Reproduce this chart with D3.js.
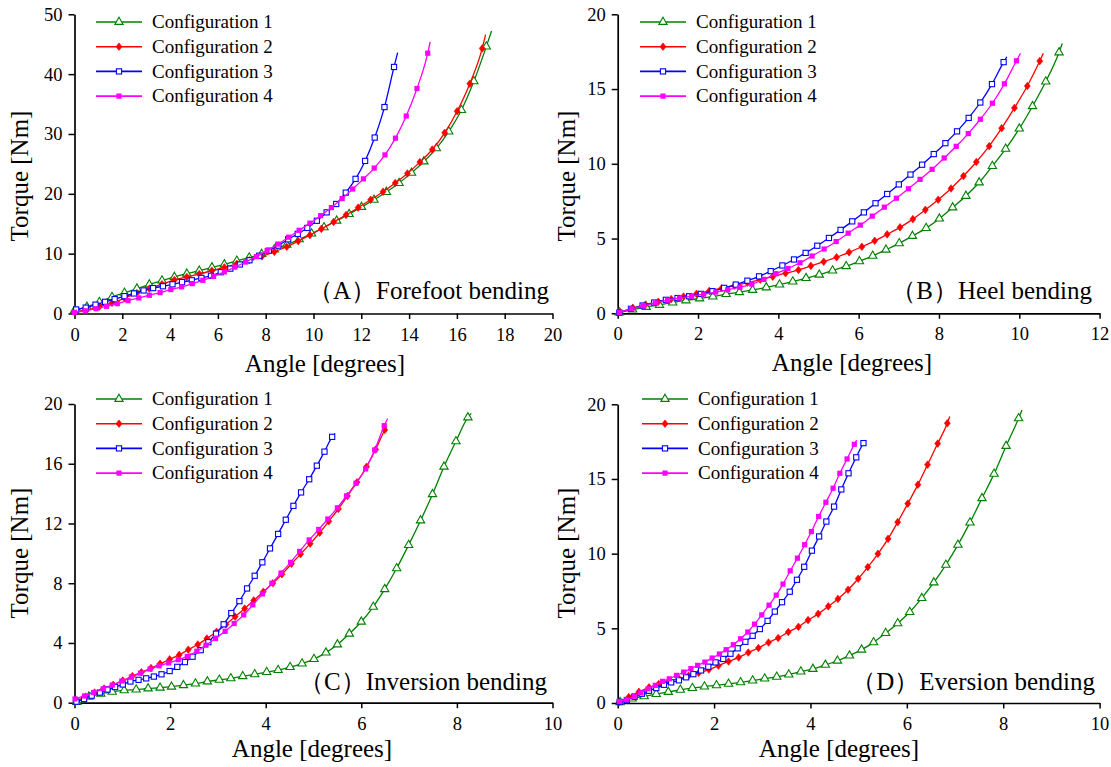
<!DOCTYPE html>
<html>
<head>
<meta charset="utf-8">
<script src="https://cdn.jsdelivr.net/npm/d3@7"></script>
<style>
  html, body { margin: 0; padding: 0; background: #ffffff; }
  svg { display: block; }
  svg text { font-family: "Liberation Serif", "Times New Roman", serif; }
</style>
</head>
<body>
<svg id="chart" width="1111" height="767"></svg>
<script>
// ---------------- DATA ----------------
const seriesNames = ["Configuration 1", "Configuration 2", "Configuration 3", "Configuration 4"];
const panelTitles = ["\uFF08A\uFF09Forefoot bending", "\uFF08B\uFF09Heel bending", "\uFF08C\uFF09Inversion bending", "\uFF08D\uFF09Eversion bending"];
const xAxisTitle = "Angle [degrees]";
const yAxisTitle = "Torque [Nm]";

const forefootXTicks = [0, 2, 4, 6, 8, 10, 12, 14, 16, 18, 20];
const forefootYTicks = [0, 10, 20, 30, 40, 50];
const heelXTicks = [0, 2, 4, 6, 8, 10, 12];
const heelYTicks = [0, 5, 10, 15, 20];
const inversionXTicks = [0, 2, 4, 6, 8, 10];
const inversionYTicks = [0, 4, 8, 12, 16, 20];
const eversionXTicks = [0, 2, 4, 6, 8, 10];
const eversionYTicks = [0, 5, 10, 15, 20];

// (A) Forefoot bending
const forefootX1 = [0, 0.52, 1.04, 1.57, 2.09, 2.61, 3.13, 3.66, 4.18, 4.70, 5.22, 5.75, 6.27, 6.79, 7.31, 7.83, 8.36, 8.88, 9.40, 9.92, 10.44, 10.97, 11.49, 12.01, 12.53, 13.05, 13.58, 14.10, 14.62, 15.14, 15.66, 16.19, 16.71, 17.23, 17.45];
const forefootY1 = [0.5, 1.1, 1.9, 2.75, 3.45, 4.15, 4.85, 5.5, 6.1, 6.65, 7.15, 7.7, 8.2, 8.8, 9.35, 9.95, 10.7, 11.5, 12.4, 13.35, 14.4, 15.5, 16.6, 17.8, 19.0, 20.3, 21.8, 23.5, 25.4, 27.6, 30.4, 34.0, 38.8, 44.6, 47.2];
const forefootX2 = [0, 0.52, 1.04, 1.57, 2.09, 2.61, 3.13, 3.66, 4.18, 4.70, 5.22, 5.75, 6.27, 6.79, 7.31, 7.84, 8.36, 8.88, 9.36, 9.85, 10.33, 10.84, 11.36, 11.87, 12.39, 12.91, 13.42, 13.93, 14.45, 14.97, 15.49, 16.01, 16.54, 17.06, 17.2];
const forefootY2 = [0.3, 0.6, 1.15, 1.75, 2.55, 3.4, 4.15, 4.9, 5.6, 6.1, 6.6, 7.15, 7.7, 8.3, 8.9, 9.55, 10.3, 11.15, 12.1, 13.1, 14.15, 15.3, 16.45, 17.7, 19.0, 20.35, 21.8, 23.4, 25.3, 27.4, 30.2, 33.8, 38.4, 44.3, 46.6];
const forefootX3 = [0.07, 0.47, 0.88, 1.28, 1.68, 2.09, 2.49, 2.89, 3.29, 3.70, 4.10, 4.50, 4.91, 5.31, 5.71, 6.12, 6.52, 6.92, 7.32, 7.73, 8.13, 8.53, 8.94, 9.34, 9.74, 10.14, 10.55, 10.95, 11.35, 11.76, 12.16, 12.56, 12.97, 13.37, 13.52];
const forefootY3 = [0.67, 0.98, 1.48, 1.95, 2.4, 2.9, 3.35, 3.85, 4.25, 4.55, 4.88, 5.25, 5.55, 5.95, 6.3, 6.9, 7.5, 8.2, 8.9, 9.65, 10.5, 11.35, 12.4, 13.3, 14.3, 15.5, 16.9, 18.3, 20.2, 22.5, 25.5, 29.4, 34.5, 41.2, 43.6];
const forefootX4 = [0, 0.45, 0.9, 1.34, 1.79, 2.24, 2.69, 3.13, 3.58, 4.03, 4.48, 4.93, 5.37, 5.82, 6.27, 6.71, 7.16, 7.61, 8.06, 8.51, 8.96, 9.4, 9.85, 10.3, 10.75, 11.2, 11.64, 12.09, 12.54, 12.99, 13.43, 13.88, 14.33, 14.78, 14.88];
const forefootY4 = [0.2, 0.45, 0.8, 1.2, 1.65, 2.15, 2.6, 3.05, 3.5, 4.0, 4.45, 5.0, 5.55, 6.2, 6.95, 7.75, 8.6, 9.5, 10.5, 11.6, 12.75, 13.9, 15.1, 16.35, 17.7, 19.2, 20.8, 22.5, 24.3, 26.5, 29.3, 33.0, 37.6, 43.5, 45.4];

// (B) Heel bending
const heelX1 = [0.04, 0.37, 0.71, 1.04, 1.37, 1.70, 2.04, 2.37, 2.70, 3.03, 3.36, 3.70, 4.03, 4.36, 4.69, 5.02, 5.35, 5.69, 6.02, 6.35, 6.68, 7.01, 7.34, 7.68, 8.01, 8.34, 8.67, 9.00, 9.33, 9.66, 10.00, 10.33, 10.66, 10.99, 11.07];
const heelY1 = [0.05, 0.25, 0.42, 0.56, 0.72, 0.86, 0.99, 1.12, 1.28, 1.41, 1.56, 1.73, 1.92, 2.12, 2.35, 2.58, 2.86, 3.15, 3.48, 3.84, 4.25, 4.68, 5.17, 5.7, 6.33, 7.08, 7.85, 8.75, 9.85, 11.0, 12.35, 13.85, 15.5, 17.45, 18.05];
const heelX2 = [0.06, 0.38, 0.69, 1.01, 1.33, 1.64, 1.96, 2.28, 2.59, 2.91, 3.23, 3.55, 3.86, 4.18, 4.50, 4.81, 5.13, 5.45, 5.76, 6.08, 6.40, 6.71, 7.03, 7.35, 7.66, 7.98, 8.30, 8.61, 8.93, 9.25, 9.56, 9.88, 10.20, 10.51, 10.6];
const heelY2 = [0.08, 0.35, 0.58, 0.77, 0.95, 1.12, 1.3, 1.5, 1.68, 1.85, 2.05, 2.25, 2.45, 2.68, 2.9, 3.17, 3.45, 3.75, 4.08, 4.45, 4.85, 5.28, 5.75, 6.3, 6.92, 7.6, 8.35, 9.18, 10.12, 11.18, 12.38, 13.74, 15.2, 16.87, 17.4];
const heelX3 = [0.04, 0.33, 0.62, 0.91, 1.20, 1.49, 1.78, 2.07, 2.36, 2.65, 2.94, 3.23, 3.52, 3.81, 4.10, 4.39, 4.68, 4.97, 5.26, 5.55, 5.84, 6.13, 6.42, 6.71, 7.00, 7.29, 7.58, 7.87, 8.16, 8.45, 8.74, 9.03, 9.32, 9.61, 9.69];
const heelY3 = [0.04, 0.3, 0.52, 0.72, 0.9, 1.02, 1.14, 1.3, 1.48, 1.7, 1.92, 2.18, 2.47, 2.82, 3.2, 3.6, 4.04, 4.52, 5.04, 5.58, 6.15, 6.75, 7.36, 7.98, 8.62, 9.28, 9.94, 10.65, 11.38, 12.17, 13.07, 14.1, 15.33, 16.8, 17.16];
const heelX4 = [0.04, 0.34, 0.64, 0.94, 1.24, 1.54, 1.84, 2.14, 2.44, 2.74, 3.04, 3.34, 3.64, 3.94, 4.24, 4.54, 4.84, 5.14, 5.44, 5.74, 6.04, 6.34, 6.64, 6.94, 7.24, 7.53, 7.83, 8.13, 8.43, 8.73, 9.03, 9.33, 9.63, 9.93, 10.03];
const heelY4 = [0.05, 0.3, 0.5, 0.7, 0.88, 1.02, 1.15, 1.28, 1.42, 1.57, 1.73, 1.95, 2.27, 2.65, 3.0, 3.38, 3.83, 4.3, 4.8, 5.36, 5.9, 6.5, 7.1, 7.7, 8.33, 8.96, 9.63, 10.39, 11.17, 12.02, 12.98, 14.05, 15.35, 16.89, 17.39];

// (C) Inversion bending
const inversionX1 = [0.05, 0.30, 0.55, 0.79, 1.04, 1.29, 1.54, 1.79, 2.03, 2.28, 2.53, 2.78, 3.03, 3.27, 3.52, 3.77, 4.02, 4.26, 4.51, 4.76, 5.01, 5.26, 5.50, 5.75, 6.00, 6.25, 6.49, 6.74, 6.99, 7.24, 7.49, 7.73, 7.98, 8.23, 8.3];
const inversionY1 = [0.05, 0.4, 0.6, 0.73, 0.83, 0.88, 0.95, 1.0, 1.07, 1.17, 1.28, 1.42, 1.53, 1.63, 1.77, 1.9, 2.05, 2.18, 2.38, 2.62, 2.92, 3.35, 3.9, 4.62, 5.42, 6.42, 7.6, 9.0, 10.55, 12.2, 13.96, 15.8, 17.5, 19.1, 19.37];
const inversionX2 = [0.03, 0.23, 0.42, 0.62, 0.81, 1.01, 1.21, 1.40, 1.60, 1.79, 1.99, 2.19, 2.38, 2.58, 2.77, 2.97, 3.17, 3.36, 3.56, 3.75, 3.95, 4.15, 4.34, 4.54, 4.73, 4.93, 5.13, 5.32, 5.52, 5.71, 5.91, 6.11, 6.30, 6.49, 6.53];
const inversionY2 = [0.1, 0.4, 0.68, 0.95, 1.2, 1.48, 1.78, 2.04, 2.32, 2.6, 2.9, 3.2, 3.55, 3.9, 4.3, 4.75, 5.24, 5.76, 6.3, 6.85, 7.43, 8.0, 8.6, 9.3, 9.95, 10.65, 11.38, 12.15, 12.97, 13.84, 14.76, 15.8, 16.95, 18.26, 18.5];
const inversionX3 = [0.04, 0.20, 0.36, 0.53, 0.69, 0.85, 1.01, 1.17, 1.34, 1.50, 1.66, 1.82, 1.99, 2.15, 2.31, 2.47, 2.64, 2.80, 2.96, 3.12, 3.28, 3.45, 3.61, 3.77, 3.93, 4.09, 4.26, 4.42, 4.58, 4.74, 4.91, 5.07, 5.23, 5.39, 5.45];
const inversionY3 = [0.07, 0.25, 0.47, 0.68, 0.88, 1.05, 1.22, 1.42, 1.53, 1.63, 1.75, 1.9, 2.12, 2.4, 2.72, 3.08, 3.52, 4.05, 4.62, 5.25, 6.0, 6.8, 7.65, 8.5, 9.4, 10.33, 11.3, 12.25, 13.18, 14.08, 14.96, 15.87, 16.81, 17.8, 18.03];
const inversionX4 = [0.01, 0.21, 0.40, 0.60, 0.79, 0.99, 1.19, 1.38, 1.58, 1.77, 1.97, 2.17, 2.36, 2.56, 2.75, 2.95, 3.15, 3.34, 3.54, 3.73, 3.93, 4.13, 4.32, 4.52, 4.71, 4.91, 5.11, 5.30, 5.50, 5.69, 5.89, 6.09, 6.28, 6.48, 6.55];
const inversionY4 = [0.25, 0.45, 0.68, 0.93, 1.18, 1.45, 1.72, 1.98, 2.25, 2.47, 2.66, 2.88, 3.1, 3.45, 3.85, 4.3, 4.78, 5.3, 5.88, 6.55, 7.28, 8.0, 8.68, 9.4, 10.13, 10.9, 11.6, 12.3, 13.05, 13.85, 14.7, 15.65, 16.92, 18.55, 19.02];

// (D) Eversion bending
const eversionX1 = [0.05, 0.30, 0.55, 0.80, 1.05, 1.30, 1.55, 1.80, 2.05, 2.30, 2.55, 2.80, 3.05, 3.30, 3.55, 3.80, 4.05, 4.31, 4.56, 4.81, 5.06, 5.31, 5.56, 5.81, 6.06, 6.31, 6.56, 6.81, 7.06, 7.31, 7.56, 7.81, 8.06, 8.32, 8.39];
const eversionY1 = [0.05, 0.29, 0.45, 0.6, 0.74, 0.88, 1.0, 1.1, 1.18, 1.28, 1.38, 1.5, 1.63, 1.75, 1.9, 2.1, 2.28, 2.55, 2.83, 3.17, 3.57, 4.06, 4.68, 5.33, 6.09, 7.02, 8.07, 9.25, 10.59, 12.08, 13.71, 15.34, 17.21, 19.06, 19.62];
const eversionX2 = [0.03, 0.23, 0.44, 0.65, 0.85, 1.06, 1.27, 1.47, 1.68, 1.89, 2.09, 2.30, 2.51, 2.71, 2.92, 3.13, 3.33, 3.54, 3.75, 3.95, 4.16, 4.37, 4.57, 4.78, 4.99, 5.19, 5.40, 5.61, 5.81, 6.02, 6.23, 6.43, 6.64, 6.84, 6.89];
const eversionY2 = [0.05, 0.4, 0.75, 1.05, 1.27, 1.45, 1.63, 1.83, 2.02, 2.24, 2.5, 2.78, 3.05, 3.38, 3.68, 4.05, 4.35, 4.75, 5.1, 5.55, 5.97, 6.47, 6.97, 7.58, 8.32, 9.1, 9.99, 10.99, 12.11, 13.35, 14.62, 15.96, 17.37, 18.73, 19.18];
const eversionX3 = [0.04, 0.19, 0.35, 0.50, 0.65, 0.80, 0.96, 1.11, 1.27, 1.42, 1.57, 1.73, 1.88, 2.03, 2.19, 2.34, 2.49, 2.65, 2.80, 2.95, 3.11, 3.26, 3.41, 3.57, 3.72, 3.87, 4.03, 4.18, 4.33, 4.49, 4.64, 4.79, 4.95, 5.10, 5.15];
const eversionY3 = [0.07, 0.2, 0.42, 0.62, 0.82, 1.0, 1.22, 1.38, 1.52, 1.72, 1.93, 2.18, 2.43, 2.72, 2.95, 3.3, 3.66, 4.1, 4.5, 4.95, 5.5, 6.12, 6.75, 7.45, 8.25, 9.12, 10.2, 11.15, 12.15, 13.15, 14.3, 15.38, 16.45, 17.4, 17.6];
const eversionX4 = [0.04, 0.19, 0.34, 0.48, 0.63, 0.78, 0.93, 1.07, 1.22, 1.37, 1.52, 1.66, 1.81, 1.96, 2.11, 2.25, 2.40, 2.55, 2.70, 2.84, 2.99, 3.14, 3.29, 3.43, 3.58, 3.73, 3.88, 4.02, 4.17, 4.32, 4.47, 4.61, 4.76, 4.91, 4.96];
const eversionY4 = [0.1, 0.22, 0.45, 0.68, 0.95, 1.18, 1.45, 1.62, 1.85, 2.07, 2.3, 2.52, 2.74, 3.01, 3.28, 3.57, 3.9, 4.3, 4.75, 5.28, 5.9, 6.55, 7.22, 7.96, 8.85, 9.7, 10.6, 11.48, 12.49, 13.44, 14.38, 15.38, 16.34, 17.32, 17.6];

// ---------------- STYLE / LAYOUT ----------------
const FONT = "Liberation Serif";
const colors = ["#008000", "#ff0000", "#0000ff", "#ff00ff"];

const panels = [
  { left: 74.5, right: 552.5, top: 14.3, bottom: 313.5, xMax: 20, yMax: 50,
    xTicks: forefootXTicks, yTicks: forefootYTicks,
    series: [[forefootX1, forefootY1], [forefootX2, forefootY2], [forefootX3, forefootY3], [forefootX4, forefootY4]],
    title: panelTitles[0], titleX: 549, titleY: 299,
    legX: 96, legY: 22, xTitleX: 325, xTitleY: 372, yTitleX: 28, yTitleY: 176 },
  { left: 617.7, right: 1099.6, top: 14.3, bottom: 313.3, xMax: 12, yMax: 20,
    xTicks: heelXTicks, yTicks: heelYTicks,
    series: [[heelX1, heelY1], [heelX2, heelY2], [heelX3, heelY3], [heelX4, heelY4]],
    title: panelTitles[1], titleX: 1092, titleY: 299,
    legX: 640, legY: 22, xTitleX: 852, xTitleY: 371, yTitleX: 575, yTitleY: 176 },
  { left: 74.5, right: 552.5, top: 404, bottom: 702.7, xMax: 10, yMax: 20,
    xTicks: inversionXTicks, yTicks: inversionYTicks,
    series: [[inversionX1, inversionY1], [inversionX2, inversionY2], [inversionX3, inversionY3], [inversionX4, inversionY4]],
    title: panelTitles[2], titleX: 547, titleY: 690,
    legX: 96, legY: 399, xTitleX: 312, xTitleY: 757, yTitleX: 28, yTitleY: 553 },
  { left: 617.7, right: 1099.6, top: 404.3, bottom: 703, xMax: 10, yMax: 20,
    xTicks: eversionXTicks, yTicks: eversionYTicks,
    series: [[eversionX1, eversionY1], [eversionX2, eversionY2], [eversionX3, eversionY3], [eversionX4, eversionY4]],
    title: panelTitles[3], titleX: 1095, titleY: 690,
    legX: 642, legY: 399, xTitleX: 839, xTitleY: 757, yTitleX: 575, yTitleY: 553 }
];

const svg = d3.select("#chart");

function drawMarker(sel, idx) {
  if (idx === 0) {
    sel.append("path").attr("d", d3.symbol().type(d3.symbolTriangle).size(30)())
      .attr("fill", "#ffffff").attr("stroke", colors[0]).attr("stroke-width", 1.1);
  } else if (idx === 1) {
    sel.append("path").attr("d", "M0,-3.8L3,0L0,3.8L-3,0Z")
      .attr("fill", colors[1]).attr("stroke", colors[1]).attr("stroke-width", 0.6);
  } else if (idx === 2) {
    sel.append("rect").attr("x", -2.6).attr("y", -2.6).attr("width", 5.2).attr("height", 5.2)
      .attr("fill", "#ffffff").attr("stroke", colors[2]).attr("stroke-width", 1.1);
  } else {
    sel.append("rect").attr("x", -2.6).attr("y", -2.6).attr("width", 5.2).attr("height", 5.2)
      .attr("fill", colors[3]).attr("stroke", "none");
  }
}

panels.forEach(p => {
  const g = svg.append("g");
  const x = d3.scaleLinear().domain([0, p.xMax]).range([p.left, p.right]);
  const y = d3.scaleLinear().domain([0, p.yMax]).range([p.bottom, p.top]);

  const xAxis = g.append("g").attr("transform", `translate(0,${p.bottom})`)
    .call(d3.axisBottom(x).tickValues(p.xTicks).tickSize(5.5).tickSizeOuter(0).tickPadding(8.5).tickFormat(d3.format("d")));
  const yAxis = g.append("g").attr("transform", `translate(${p.left},0)`)
    .call(d3.axisLeft(y).tickValues(p.yTicks).tickSize(6).tickSizeOuter(0).tickPadding(6).tickFormat(d3.format("d")));
  [xAxis, yAxis].forEach(a => {
    a.attr("font-family", null).attr("font-size", null);
    a.select(".domain").attr("stroke", "#000").attr("stroke-width", 1.7);
    a.selectAll(".tick line").attr("stroke", "#000").attr("stroke-width", 1.5);
    a.selectAll(".tick text").style("font-family", FONT).style("font-size", "18.5px").attr("fill", "#000");
  });

  const line = d3.line().x(d => x(d[0])).y(d => y(d[1])).curve(d3.curveMonotoneX);
  p.series.forEach((s, i) => {
    const pts = s[0].map((v, k) => [v, s[1][k]]);
    g.append("path").attr("d", line(pts)).attr("fill", "none")
      .attr("stroke", colors[i]).attr("stroke-width", 1.3);
    const mk = g.append("g").selectAll("g").data(pts.slice(0, -1)).enter().append("g")
      .attr("transform", d => `translate(${x(d[0])},${y(d[1])})`);
    drawMarker(mk, i);
  });

  seriesNames.forEach((name, i) => {
    const ly = p.legY + i * 24.7;
    g.append("line").attr("x1", p.legX).attr("x2", p.legX + 46).attr("y1", ly).attr("y2", ly)
      .attr("stroke", colors[i]).attr("stroke-width", 1.6);
    const m = g.append("g").attr("transform", `translate(${p.legX + 23},${ly})`);
    drawMarker(m, i);
    g.append("text").attr("x", p.legX + 56).attr("y", ly + 6.3)
      .style("font-family", FONT).style("font-size", "19px").attr("fill", "#000").text(name);
  });

  g.append("text").attr("x", p.titleX).attr("y", p.titleY).attr("text-anchor", "end")
    .style("font-family", FONT).style("font-size", "25px").attr("fill", "#000").text(p.title);

  g.append("text").attr("x", p.xTitleX).attr("y", p.xTitleY).attr("text-anchor", "middle")
    .style("font-family", FONT).style("font-size", "25px").attr("fill", "#000").text(xAxisTitle);
  g.append("text").attr("transform", `translate(${p.yTitleX},${p.yTitleY}) rotate(-90)`)
    .attr("text-anchor", "middle")
    .style("font-family", FONT).style("font-size", "25px").attr("fill", "#000").text(yAxisTitle);
});
</script>
</body>
</html>
